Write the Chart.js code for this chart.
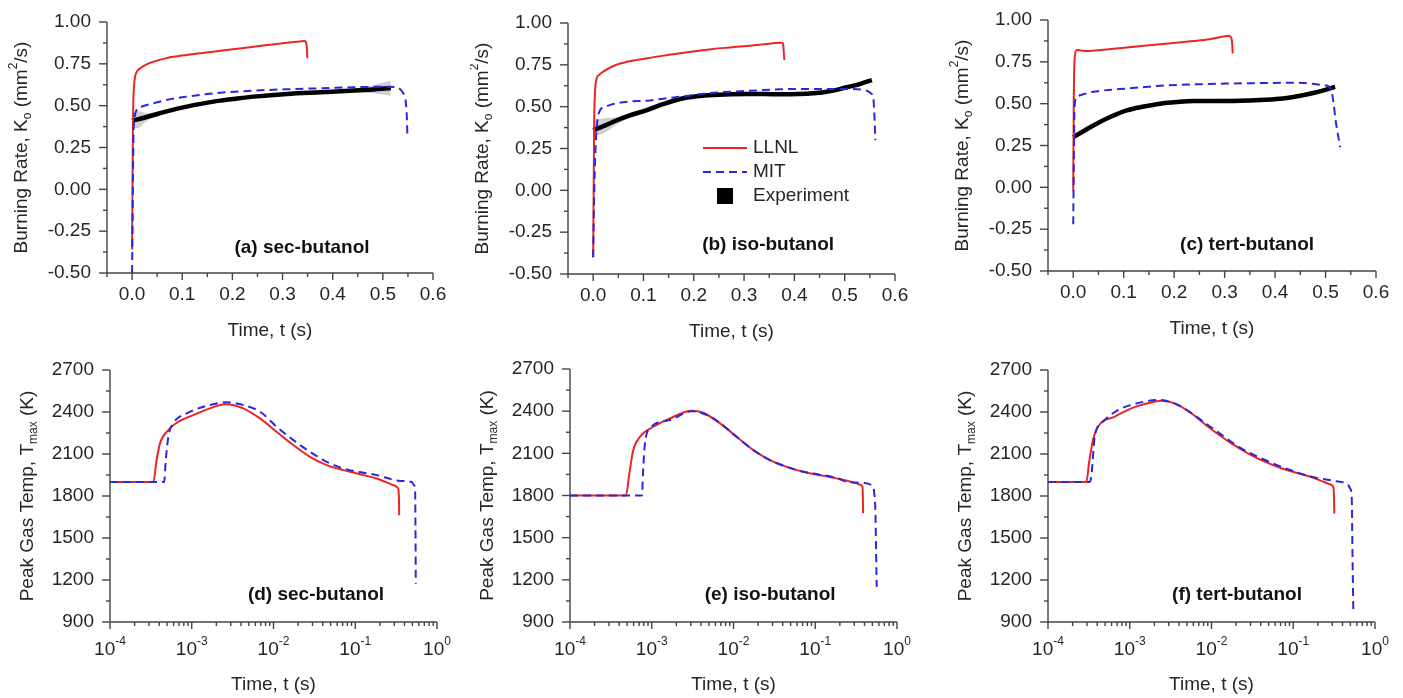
<!DOCTYPE html>
<html>
<head>
<meta charset="utf-8">
<title>Burning rate and peak gas temperature of butanol isomers</title>
<script src="https://cdn.jsdelivr.net/npm/chart.js@4.4.1/dist/chart.umd.min.js"></script>
<style>
  html, body { margin: 0; background: #fff; }
  #figure { position: relative; width: 1403px; height: 698px; overflow: hidden; background: #fff; }
  #figure canvas { position: absolute; }
</style>
</head>
<body>
<div id="figure"></div>
<script>
// ---- Data: [time (s), value] ----

// Burning rate K_o (mm^2/s), top row
const rateSecLLNL = [[0,-0.36],[0.001,0.1],[0.002,0.45],[0.004,0.62],[0.006,0.673],[0.01,0.705],[0.016,0.723],[0.03,0.748],[0.043,0.763],[0.07,0.785],[0.109,0.803],[0.14,0.815],[0.176,0.828],[0.21,0.84],[0.243,0.852],[0.275,0.864],[0.309,0.876],[0.335,0.884],[0.343,0.886],[0.346,0.883],[0.348,0.86],[0.349,0.82],[0.3495,0.783]];
const rateSecMIT = [[0,-0.5],[0.001,-0.2],[0.002,0.15],[0.003,0.35],[0.005,0.43],[0.009,0.474],[0.02,0.495],[0.043,0.514],[0.07,0.535],[0.109,0.554],[0.14,0.566],[0.176,0.577],[0.243,0.59],[0.309,0.598],[0.376,0.604],[0.443,0.61],[0.509,0.613],[0.527,0.61],[0.536,0.594],[0.542,0.565],[0.546,0.514],[0.548,0.42],[0.549,0.314]];
const rateSecExp = [[0,0.41],[0.02,0.425],[0.043,0.444],[0.075,0.47],[0.109,0.494],[0.14,0.512],[0.176,0.53],[0.21,0.543],[0.243,0.554],[0.309,0.57],[0.376,0.58],[0.443,0.59],[0.48,0.597],[0.516,0.606]];
const rateSecExpHi = [[0,0.44],[0.01,0.47],[0.03,0.455],[0.06,0.47],[0.109,0.5],[0.2,0.545],[0.3,0.572],[0.4,0.59],[0.45,0.605],[0.49,0.63],[0.516,0.65]];
const rateSecExpLo = [[0,0.37],[0.01,0.365],[0.03,0.41],[0.06,0.452],[0.109,0.488],[0.2,0.535],[0.3,0.562],[0.4,0.575],[0.45,0.582],[0.49,0.57],[0.516,0.56]];

const rateIsoLLNL = [[0,-0.4],[0.001,0],[0.002,0.4],[0.004,0.6],[0.007,0.669],[0.012,0.69],[0.02,0.709],[0.04,0.743],[0.07,0.77],[0.107,0.789],[0.14,0.805],[0.173,0.819],[0.206,0.832],[0.239,0.845],[0.272,0.854],[0.306,0.863],[0.34,0.873],[0.372,0.882],[0.376,0.882],[0.378,0.865],[0.379,0.82],[0.38,0.779]];
const rateIsoMIT = [[0,-0.4],[0.001,-0.2],[0.003,0.1],[0.006,0.33],[0.009,0.43],[0.014,0.48],[0.025,0.5],[0.04,0.516],[0.07,0.53],[0.107,0.536],[0.14,0.548],[0.173,0.56],[0.206,0.572],[0.239,0.583],[0.306,0.594],[0.372,0.604],[0.438,0.606],[0.504,0.606],[0.544,0.595],[0.552,0.58],[0.557,0.55],[0.559,0.45],[0.561,0.3]];
const rateIsoExp = [[0,0.36],[0.02,0.383],[0.04,0.41],[0.07,0.445],[0.107,0.48],[0.14,0.516],[0.173,0.546],[0.206,0.562],[0.239,0.57],[0.306,0.576],[0.372,0.574],[0.438,0.58],[0.47,0.592],[0.504,0.616],[0.53,0.635],[0.554,0.659]];
const rateIsoExpHi = [[0,0.42],[0.02,0.43],[0.05,0.44],[0.1,0.49],[0.173,0.555],[0.3,0.582],[0.44,0.587],[0.5,0.625],[0.554,0.668]];
const rateIsoExpLo = [[0,0.33],[0.02,0.34],[0.05,0.4],[0.1,0.465],[0.173,0.537],[0.3,0.57],[0.44,0.573],[0.5,0.607],[0.554,0.65]];

const rateTertLLNL = [[0,-0.02],[0.001,0.5],[0.003,0.78],[0.007,0.82],[0.015,0.818],[0.027,0.815],[0.06,0.822],[0.106,0.835],[0.172,0.855],[0.238,0.874],[0.27,0.885],[0.304,0.904],[0.309,0.906],[0.313,0.895],[0.315,0.86],[0.316,0.8]];
const rateTertMIT = [[0,-0.22],[0.001,0.1],[0.002,0.4],[0.004,0.52],[0.007,0.54],[0.02,0.556],[0.04,0.571],[0.07,0.582],[0.106,0.59],[0.172,0.607],[0.238,0.615],[0.304,0.62],[0.37,0.623],[0.436,0.625],[0.47,0.62],[0.496,0.61],[0.508,0.6],[0.513,0.56],[0.516,0.5],[0.52,0.4],[0.529,0.24]];
const rateTertExp = [[0,0.3],[0.02,0.335],[0.04,0.37],[0.073,0.42],[0.106,0.46],[0.14,0.483],[0.172,0.5],[0.205,0.51],[0.238,0.516],[0.304,0.516],[0.37,0.522],[0.41,0.53],[0.436,0.54],[0.48,0.567],[0.519,0.6]];
const rateTertExpHi = [[0,0.31],[0.04,0.38],[0.106,0.47],[0.172,0.51],[0.238,0.527],[0.37,0.533],[0.436,0.55],[0.519,0.61]];
const rateTertExpLo = [[0,0.29],[0.04,0.36],[0.106,0.45],[0.172,0.49],[0.238,0.505],[0.37,0.511],[0.436,0.53],[0.519,0.59]];

// Peak gas temperature T_max (K), bottom row
const tempSecLLNL = [[1e-4,1900],[3.39e-4,1900],[3.7e-4,2050],[4.09e-4,2176],[5.17e-4,2271],[6.55e-4,2323],[1.045e-3,2378],[1.67e-3,2426],[2.55e-3,2455],[3.2e-3,2450],[4.27e-3,2426],[6.84e-3,2354],[0.0109,2259],[0.0175,2164],[0.0279,2080],[0.0448,2021],[0.0714,1985],[0.114,1956],[0.183,1925],[0.292,1878],[0.33,1860],[0.34,1830],[0.343,1760],[0.345,1663]];
const tempSecMIT = [[1e-4,1900],[4.6e-4,1900],[4.8e-4,2050],[5.2e-4,2230],[5.94e-4,2319],[8.67e-4,2390],[1.67e-3,2450],[2.68e-3,2469],[4.27e-3,2450],[6.84e-3,2402],[0.0109,2295],[0.0175,2199],[0.0279,2116],[0.0448,2044],[0.0714,1997],[0.183,1949],[0.356,1908],[0.49,1901],[0.52,1880],[0.54,1841],[0.545,1600],[0.55,1174]];

const tempIsoLLNL = [[1e-4,1800],[4.84e-4,1800],[5.3e-4,1950],[5.94e-4,2123],[7.18e-4,2218],[1.045e-3,2289],[1.67e-3,2349],[3.08e-3,2403],[4.27e-3,2389],[6.84e-3,2313],[0.0109,2218],[0.0175,2123],[0.0279,2052],[0.0448,2004],[0.0714,1969],[0.183,1922],[0.321,1886],[0.36,1875],[0.378,1862],[0.382,1800],[0.385,1673]];
const tempIsoMIT = [[1e-4,1800],[7.6e-4,1800],[7.8e-4,1950],[8.2e-4,2150],[9.5e-4,2278],[1.67e-3,2337],[3.08e-3,2400],[5.66e-3,2349],[0.0109,2218],[0.0175,2123],[0.0279,2052],[0.0448,2004],[0.0714,1969],[0.183,1925],[0.242,1898],[0.387,1889],[0.513,1862],[0.53,1800],[0.545,1673],[0.555,1400],[0.565,1150]];

const tempTertLLNL = [[1e-4,1900],[2.94e-4,1900],[3.2e-4,2050],[3.55e-4,2200],[4.09e-4,2295],[6.55e-4,2367],[1.045e-3,2426],[1.67e-3,2462],[2.43e-3,2481],[3.55e-3,2462],[5.66e-3,2391],[9.06e-3,2295],[0.0175,2176],[0.0279,2105],[0.0448,2045],[0.0714,1998],[0.183,1926],[0.292,1879],[0.31,1860],[0.315,1800],[0.318,1675]];
const tempTertMIT = [[1e-4,1900],[3.24e-4,1900],[3.4e-4,1950],[3.73e-4,2224],[4.71e-4,2331],[7.18e-4,2414],[1.15e-3,2457],[2.21e-3,2486],[3.89e-3,2450],[9.06e-3,2307],[0.0232,2141],[0.0714,2009],[0.183,1933],[0.321,1907],[0.468,1880],[0.5,1850],[0.519,1795],[0.53,1400],[0.543,986]];

// Axis ticks
const rateTicks = [-0.5, -0.25, 0, 0.25, 0.5, 0.75, 1.0];
const rateMinorTicks = [-0.375, -0.125, 0.125, 0.375, 0.625, 0.875];
const linTimeTicks = [0, 0.1, 0.2, 0.3, 0.4, 0.5, 0.6];
const linTimeMinorTicks = [-0.05, 0.05, 0.15, 0.25, 0.35, 0.45, 0.55];
const tempTicks = [900, 1200, 1500, 1800, 2100, 2400, 2700];
const tempMinorTicks = [1050, 1350, 1650, 1950, 2250, 2550];
const logTimeExponents = [-4, -3, -2, -1, 0];

const seriesNames = ['LLNL', 'MIT', 'Experiment'];

// ---- Style ----
const FONT = '"Liberation Sans", Arial, Helvetica, sans-serif';
const INK = '#262626';
const AXIS = '#444444';
const RED = 'rgb(236, 36, 36)';
const BLUE = 'rgb(40, 40, 222)';
const DASH = [8, 5];

const rateTitle = [['Burning Rate, K', 0], ['o', -1], [' (mm', 0], ['2', 1], ['/s)', 0]];
const tempTitle = [['Peak Gas Temp, T', 0], ['max', -1], [' (K)', 0]];
const timeTitle = 'Time, t (s)';

// draws text made of normal / subscript (-1) / superscript (1) pieces, centred on (cx, cy)
function drawRich(ctx, parts, cx, cy, size, rotated) {
  const small = Math.round(size * 0.62);
  const fontOf = lvl => (lvl ? small : size) + 'px ' + FONT;
  let total = 0;
  parts.forEach(([s, lvl]) => { ctx.font = fontOf(lvl); total += ctx.measureText(s).width; });
  ctx.save();
  ctx.translate(cx, cy);
  if (rotated) ctx.rotate(-Math.PI / 2);
  ctx.textAlign = 'left';
  ctx.textBaseline = 'middle';
  let x = -total / 2;
  parts.forEach(([s, lvl]) => {
    ctx.font = fontOf(lvl);
    const dy = lvl === 1 ? -size * 0.42 : lvl === -1 ? size * 0.32 : 0;
    ctx.fillText(s, x, dy);
    x += ctx.measureText(s).width;
  });
  ctx.restore();
}

function makeDecor(p) {
  return {
    id: 'decor',
    afterDraw(chart) {
      const { ctx, chartArea: a } = chart;
      const xs = chart.scales.x, ys = chart.scales.y;
      ctx.save();
      ctx.strokeStyle = AXIS;
      ctx.lineWidth = 1.4;
      ctx.setLineDash([]);
      const seg = (x1, y1, x2, y2) => { ctx.beginPath(); ctx.moveTo(x1, y1); ctx.lineTo(x2, y2); ctx.stroke(); };

      // axis lines
      ctx.beginPath();
      ctx.moveTo(a.left, a.top);
      ctx.lineTo(a.left, a.bottom);
      ctx.lineTo(a.right, a.bottom);
      ctx.stroke();

      // y ticks
      p.yMajor.forEach(v => { const py = ys.getPixelForValue(v); seg(a.left - 8, py, a.left, py); });
      p.yMinor.forEach(v => { const py = ys.getPixelForValue(v); seg(a.left - 4, py, a.left, py); });

      // x ticks
      let xMajor, xMinor;
      if (p.log) {
        xMajor = logTimeExponents.map(e => Math.pow(10, e));
        xMinor = [];
        logTimeExponents.slice(0, -1).forEach(e => {
          for (let k = 2; k <= 9; k++) xMinor.push(k * Math.pow(10, e));
        });
      } else {
        xMajor = linTimeTicks;
        xMinor = linTimeMinorTicks;
      }
      xMajor.forEach(v => { const px = xs.getPixelForValue(v); seg(px, a.bottom, px, a.bottom + 7); });
      xMinor.forEach(v => { const px = xs.getPixelForValue(v); seg(px, a.bottom, px, a.bottom + 4); });

      // tick labels
      ctx.fillStyle = INK;
      ctx.font = '19px ' + FONT;
      ctx.textAlign = 'right';
      ctx.textBaseline = 'middle';
      p.yMajor.forEach(v => ctx.fillText(v.toFixed(p.yDigits), a.left - 16, ys.getPixelForValue(v)));
      if (p.log) {
        logTimeExponents.forEach(e => {
          drawRich(ctx, [['10', 0], [String(e), 1]], xs.getPixelForValue(Math.pow(10, e)), a.bottom + 28, 19, false);
        });
      } else {
        ctx.textAlign = 'center';
        linTimeTicks.forEach(v => ctx.fillText(v.toFixed(1), xs.getPixelForValue(v), a.bottom + 22));
      }

      // axis titles
      ctx.font = '19px ' + FONT;
      ctx.textAlign = 'center';
      ctx.fillText(timeTitle, (a.left + a.right) / 2, a.bottom + p.xTitleGap);
      drawRich(ctx, p.yTitle, a.left - p.yTitleGap, (a.top + a.bottom) / 2, 19, true);

      // panel caption
      ctx.font = 'bold 19px ' + FONT;
      ctx.fillStyle = '#111';
      ctx.fillText(p.caption, a.left + p.capX * (a.right - a.left), a.top + p.capY * (a.bottom - a.top));

      // legend (panel b only)
      if (p.legend) {
        const lx = a.left + 135, ly = a.top + 125, gap = 24;
        ctx.lineWidth = 2;
        ctx.strokeStyle = RED;
        seg(lx, ly, lx + 44, ly);
        ctx.strokeStyle = BLUE;
        ctx.setLineDash(DASH);
        seg(lx, ly + gap, lx + 44, ly + gap);
        ctx.setLineDash([]);
        ctx.fillStyle = '#000';
        ctx.fillRect(lx + 14, ly + 2 * gap - 8, 16, 16);
        ctx.fillStyle = INK;
        ctx.font = '19px ' + FONT;
        ctx.textAlign = 'left';
        seriesNames.forEach((n, i) => ctx.fillText(n, lx + 50, ly + i * gap));
      }
      ctx.restore();
    }
  };
}

const toXY = pairs => pairs.map(([x, y]) => ({ x, y }));

function buildDatasets(llnl, mit, exp, hi, lo) {
  const sets = [
    { label: seriesNames[1], data: toXY(mit), borderColor: BLUE, borderWidth: 2, borderDash: DASH, cubicInterpolationMode: 'monotone', fill: false },
    { label: seriesNames[0], data: toXY(llnl), borderColor: RED, borderWidth: 2, cubicInterpolationMode: 'monotone', fill: false }
  ];
  if (exp) {
    sets.push({ label: seriesNames[2], data: toXY(exp), borderColor: '#000', borderWidth: 4.5, cubicInterpolationMode: 'monotone', fill: false });
    sets.push({ label: 'band-hi', data: toXY(hi), borderWidth: 0, borderColor: 'rgba(0,0,0,0)', backgroundColor: 'rgba(150,150,150,0.45)', cubicInterpolationMode: 'monotone', fill: '+1' });
    sets.push({ label: 'band-lo', data: toXY(lo), borderWidth: 0, borderColor: 'rgba(0,0,0,0)', cubicInterpolationMode: 'monotone', fill: false });
  }
  return sets;
}

const topRate = { log: false, xMin: -0.05, xMax: 0.6, yMin: -0.5, yMax: 1.0, yMajor: rateTicks, yMinor: rateMinorTicks, yDigits: 2, yTitle: rateTitle, yTitleGap: 85, xTitleGap: 58 };
const botTemp = { log: true, xMin: 1e-4, xMax: 1, yMin: 900, yMax: 2700, yMajor: tempTicks, yMinor: tempMinorTicks, yDigits: 0, yTitle: tempTitle, yTitleGap: 82, xTitleGap: 63 };

const panels = [
  Object.assign({}, topRate, { left: 0, top: 0, w: 470, h: 345, pad: { left: 107, right: 37, top: 22, bottom: 72 }, caption: '(a) sec-butanol', capX: 0.598, capY: 0.9, datasets: buildDatasets(rateSecLLNL, rateSecMIT, rateSecExp, rateSecExpHi, rateSecExpLo) }),
  Object.assign({}, topRate, { left: 470, top: 0, w: 470, h: 345, pad: { left: 98, right: 45, top: 23, bottom: 71 }, caption: '(b) iso-butanol', capX: 0.612, capY: 0.884, legend: true, datasets: buildDatasets(rateIsoLLNL, rateIsoMIT, rateIsoExp, rateIsoExpHi, rateIsoExpLo) }),
  Object.assign({}, topRate, { left: 940, top: 0, w: 463, h: 345, pad: { left: 108, right: 27, top: 20, bottom: 74 }, caption: '(c) tert-butanol', capX: 0.607, capY: 0.896, datasets: buildDatasets(rateTertLLNL, rateTertMIT, rateTertExp, rateTertExpHi, rateTertExpLo) }),
  Object.assign({}, botTemp, { left: 0, top: 345, w: 470, h: 353, pad: { left: 110, right: 33, top: 25, bottom: 76 }, caption: '(d) sec-butanol', capX: 0.63, capY: 0.893, datasets: buildDatasets(tempSecLLNL, tempSecMIT) }),
  Object.assign({}, botTemp, { left: 470, top: 345, w: 470, h: 353, pad: { left: 100, right: 43, top: 24, bottom: 76 }, caption: '(e) iso-butanol', capX: 0.612, capY: 0.893, datasets: buildDatasets(tempIsoLLNL, tempIsoMIT) }),
  Object.assign({}, botTemp, { left: 940, top: 345, w: 463, h: 353, pad: { left: 108, right: 28, top: 25, bottom: 76 }, caption: '(f) tert-butanol', capX: 0.578, capY: 0.893, datasets: buildDatasets(tempTertLLNL, tempTertMIT) })
];

const figure = document.getElementById('figure');
panels.forEach(p => {
  const canvas = document.createElement('canvas');
  canvas.width = p.w;
  canvas.height = p.h;
  canvas.style.left = p.left + 'px';
  canvas.style.top = p.top + 'px';
  figure.appendChild(canvas);

  new Chart(canvas, {
    type: 'line',
    data: { datasets: p.datasets },
    options: {
      responsive: false,
      animation: false,
      layout: { padding: p.pad },
      elements: { point: { radius: 0, hoverRadius: 0 } },
      plugins: { legend: { display: false }, tooltip: { enabled: false } },
      scales: {
        x: { type: p.log ? 'logarithmic' : 'linear', min: p.xMin, max: p.xMax, display: false },
        y: { type: 'linear', min: p.yMin, max: p.yMax, display: false }
      }
    },
    plugins: [makeDecor(p)]
  });
});
</script>
</body>
</html>
